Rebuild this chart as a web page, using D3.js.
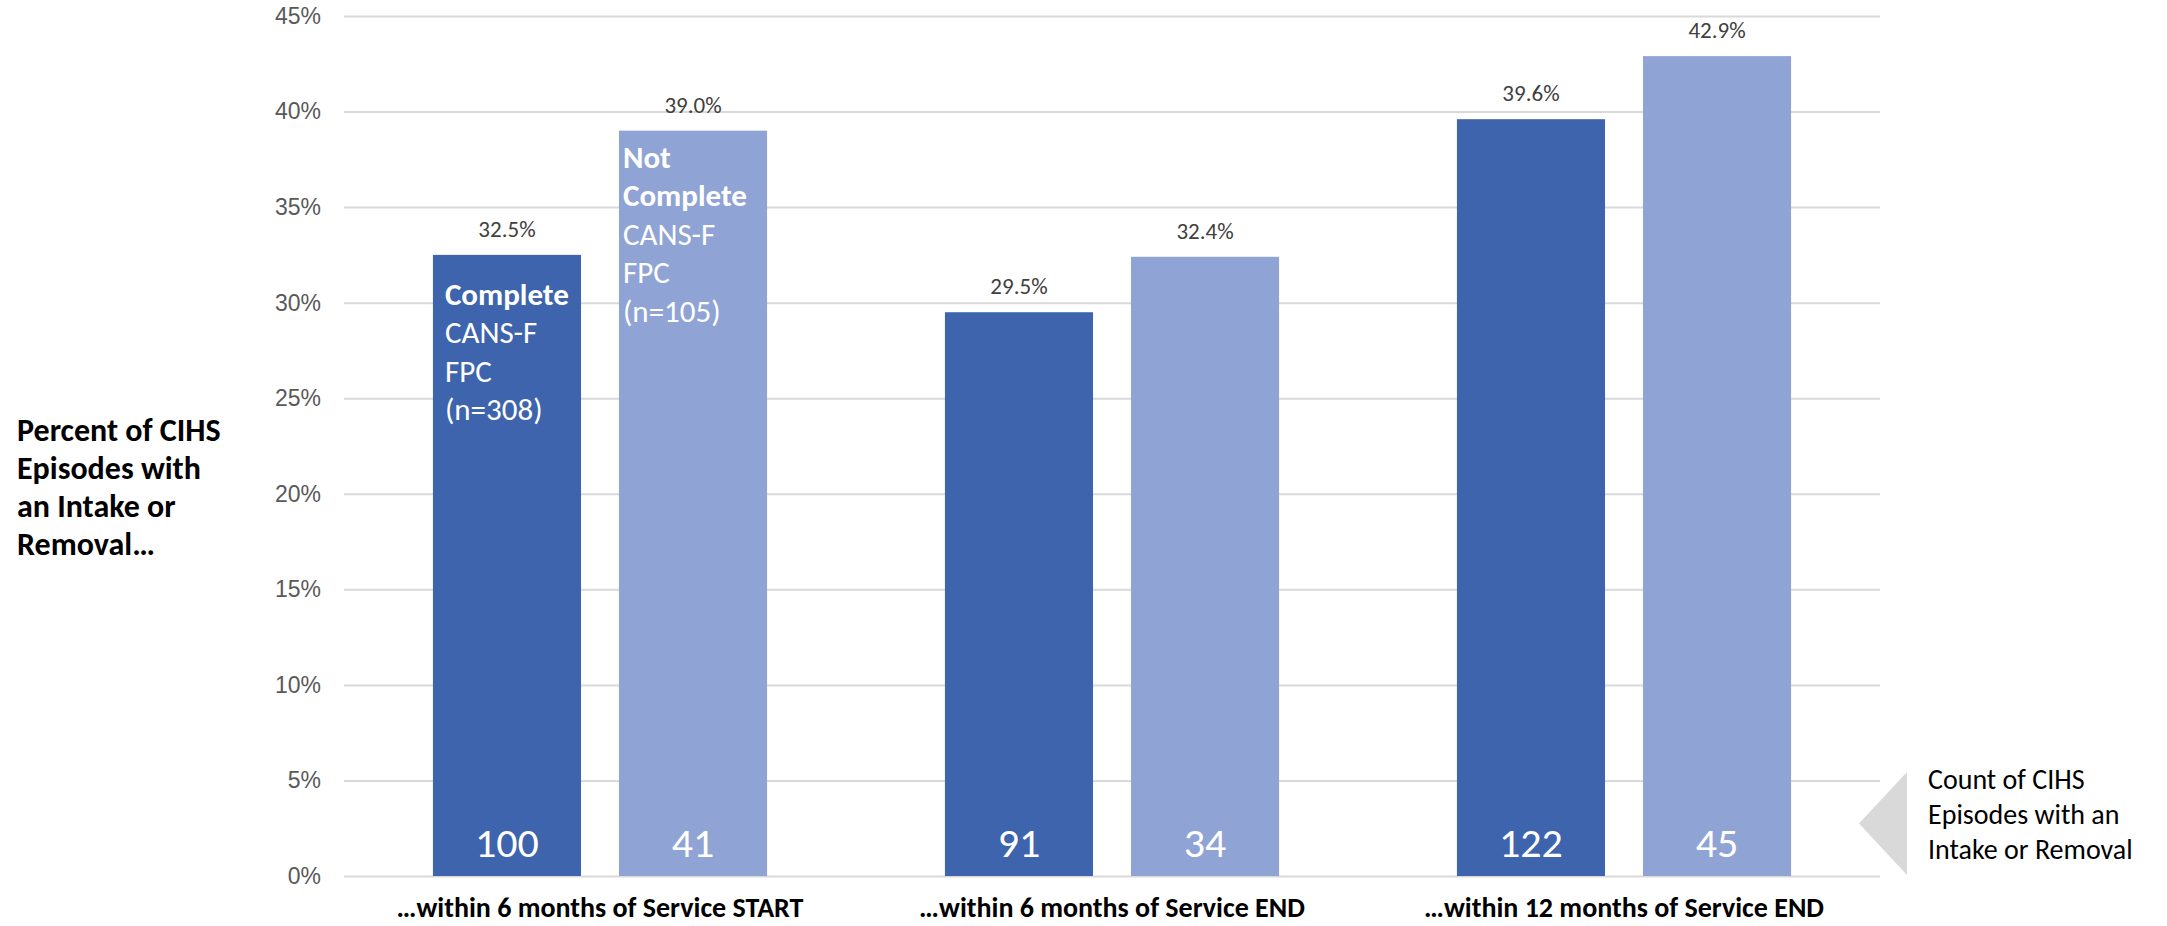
<!DOCTYPE html>
<html>
<head>
<meta charset="utf-8">
<script src="https://cdn.jsdelivr.net/npm/d3@7"></script>
<style>
  html, body { margin: 0; padding: 0; background: #ffffff; }
  svg { display: block; font-family: Carlito, Lato, "Open Sans", sans-serif; }
</style>
</head>
<body>
<svg id="chart" width="2167" height="926"></svg>
<script>
// Episode groups along the x axis
const categories = [
  "\u2026within 6 months of Service START",
  "\u2026within 6 months of Service END",
  "\u2026within 12 months of Service END"
];
// Series: CANS-F FPC complete vs. not complete
const seriesKeys = ["complete", "notComplete"];
const seriesSizes = [308, 105];
// Percent of episodes with an intake or removal
const completePct = [32.5, 29.5, 39.6];
const notCompletePct = [39.0, 32.4, 42.9];
// Count of episodes with an intake or removal
const completeCount = [100, 91, 122];
const notCompleteCount = [41, 34, 45];
// Y axis ticks
const yTicks = [0, 5, 10, 15, 20, 25, 30, 35, 40, 45];

const yTitleLines = ["Percent of CIHS", "Episodes with", "an Intake or", "Removal\u2026"];
const countNoteLines = ["Count of CIHS", "Episodes with an", "Intake or Removal"];

const colors = { complete: "#3D64AD", notComplete: "#8FA3D4" };

const rows = categories.map((c, i) => ({
  category: c,
  values: [
    { key: "complete", pct: completePct[i], count: completeCount[i] },
    { key: "notComplete", pct: notCompletePct[i], count: notCompleteCount[i] }
  ]
}));

const svg = d3.select("#chart");

const plot = { left: 344, right: 1880, top: 16, bottom: 876 };

const y = d3.scaleLinear().domain([0, 45]).range([plot.bottom, plot.top]);
const x0 = d3.scaleBand().domain(categories).range([plot.left, plot.right]).padding(0);
const x1 = d3.scaleBand().domain(seriesKeys).range([0, x0.bandwidth()])
  .paddingInner(0.204).paddingOuter(0.478);

// Gridlines and tick labels
const yAxis = d3.axisLeft(y).tickValues(yTicks).tickFormat(d => d + "%")
  .tickSize(-(plot.right - plot.left)).tickPadding(23);
const gy = svg.append("g").attr("transform", `translate(${plot.left},0)`).call(yAxis);
gy.select(".domain").remove();
gy.selectAll(".tick line").attr("stroke", "#D9D9D9").attr("stroke-width", 2);
gy.selectAll(".tick text").attr("fill", "#595959").style("font-size", "23px");

// Bars
const groups = svg.append("g").selectAll("g").data(rows).join("g")
  .attr("transform", d => `translate(${x0(d.category)},0)`);

groups.selectAll("rect").data(d => d.values).join("rect")
  .attr("x", d => x1(d.key))
  .attr("y", d => y(d.pct))
  .attr("width", x1.bandwidth())
  .attr("height", d => y(0) - y(d.pct))
  .attr("fill", d => colors[d.key]);

// Percent labels above the bars
groups.selectAll("text.pct").data(d => d.values).join("text")
  .attr("class", "pct")
  .attr("x", d => x1(d.key) + x1.bandwidth() / 2)
  .attr("y", d => y(d.pct) - 18)
  .attr("text-anchor", "middle")
  .attr("fill", "#404040")
  .style("font-size", "23px")
  .text(d => d.pct.toFixed(1) + "%");

// Count labels inside the bars
groups.selectAll("text.count").data(d => d.values).join("text")
  .attr("class", "count")
  .attr("x", d => x1(d.key) + x1.bandwidth() / 2)
  .attr("y", y(0) - 19)
  .attr("text-anchor", "middle")
  .attr("fill", "#FFFFFF")
  .style("font-size", "42px")
  .text(d => d.count);

// Series names written inside the first group's bars
const seriesLabels = [
  { key: "complete", bold: ["Complete"], rest: ["CANS-F", "FPC", `(n=${seriesSizes[0]})`], dx: 12, dy: 50 },
  { key: "notComplete", bold: ["Not", "Complete"], rest: ["CANS-F", "FPC", `(n=${seriesSizes[1]})`], dx: 4, dy: 37 }
];
const firstRow = rows[0];
seriesLabels.forEach((s, si) => {
  const v = firstRow.values[si];
  const t = svg.append("text")
    .attr("x", x0(firstRow.category) + x1(s.key) + s.dx)
    .attr("y", y(v.pct) + s.dy)
    .attr("fill", "#FFFFFF")
    .style("font-size", "31px");
  const lines = s.bold.map(l => ({ l, b: true })).concat(s.rest.map(l => ({ l, b: false })));
  lines.forEach((ln, i) => {
    t.append("tspan")
      .attr("x", x0(firstRow.category) + x1(s.key) + s.dx)
      .attr("dy", i === 0 ? 0 : 38.5)
      .style("font-weight", ln.b ? "bold" : "normal")
      .text(ln.l);
  });
});

// Category labels under the axis
svg.append("g").selectAll("text").data(categories).join("text")
  .attr("x", d => x0(d) + x0.bandwidth() / 2)
  .attr("y", 917)
  .attr("text-anchor", "middle")
  .attr("fill", "#000000")
  .style("font-size", "28px")
  .style("font-weight", "bold")
  .text(d => d);

// Y axis title
const yt = svg.append("text").attr("x", 17).attr("y", 441)
  .attr("fill", "#000000").style("font-size", "32px").style("font-weight", "bold");
yTitleLines.forEach((l, i) => {
  yt.append("tspan").attr("x", 17).attr("dy", i === 0 ? 0 : 38).text(l);
});

// Pointer and note for the count labels
svg.append("path")
  .attr("d", d3.line()([[1859, 823.5], [1907, 772], [1907, 875]]) + "Z")
  .attr("fill", "#D9D9D9");
const note = svg.append("text").attr("x", 1928).attr("y", 789)
  .attr("fill", "#000000").style("font-size", "28px");
countNoteLines.forEach((l, i) => {
  note.append("tspan").attr("x", 1928).attr("dy", i === 0 ? 0 : 35).text(l);
});
</script>
</body>
</html>
